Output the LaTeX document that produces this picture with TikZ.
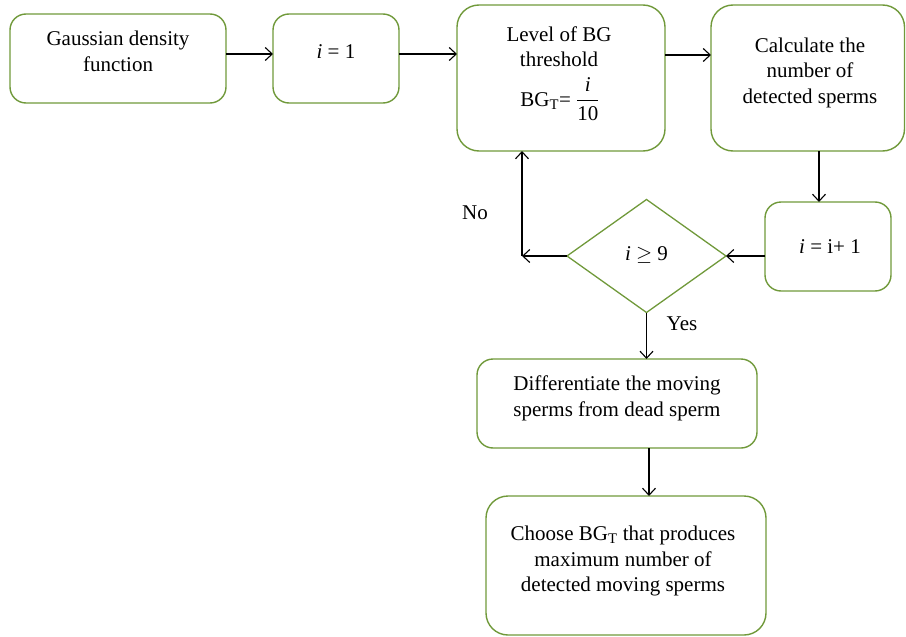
\documentclass[tikz,border=0pt]{standalone}
\usepackage{amsmath}
\usepackage{fontspec}
\setmainfont{Liberation Serif}
\usetikzlibrary{arrows.meta,shapes.geometric}
\definecolor{boxgreen}{RGB}{112,153,58}
\begin{document}
\begin{tikzpicture}[x=1pt,y=-1pt,
  every node/.style={font=\fontsize{21}{25.5}\selectfont},
  box/.style={draw=boxgreen,line width=1.4pt,rounded corners=#1,rectangle,inner sep=0pt,outer sep=0pt},
  box/.default=16pt,
  dia/.style={draw=boxgreen,line width=1.3pt,diamond,inner sep=0pt,outer sep=0pt,shape aspect=1.4},
  txt/.style={align=center,inner sep=0pt},
  arr/.style={draw=black,line width=1.1pt,-{Straight Barb[length=7pt,width=13pt,line width=1.1pt]}}]
\useasboundingbox (0,0) rectangle (906,637);
% boxes
\node[box,minimum width=216pt,minimum height=89pt] (b1) at (118,58.5) {};
\node[box,minimum width=126pt,minimum height=89pt] (b2) at (336,58.5) {};
\node[box=22pt,minimum width=208pt,minimum height=146pt] (b3) at (561,78) {};
\node[box=22pt,minimum width=193.5pt,minimum height=146pt] (b4) at (807.75,78) {};
\node[box,minimum width=126pt,minimum height=89pt] (b5) at (828,246.5) {};
\node[dia,minimum width=159pt,minimum height=113pt] (d) at (646.5,256) {};
\node[box,minimum width=280pt,minimum height=89pt] (b6) at (617,403.5) {};
\node[box=22pt,minimum width=280pt,minimum height=139pt] (b7) at (626,565.5) {};
% texts
\node[txt] (t1) at (118,51.5) {Gaussian density\\function};
\node[txt] (t2) at (336,51.5) {\textit{i} = 1};
\node[txt] (t3a) at (559,46.5) {Level of BG\\threshold};
\node[txt,anchor=base] (t3b) at (560,106) {BG$_{\text{T}}$= $\dfrac{\text{\itshape i}}{\text{10}}$};
\node[txt] (t4) at (810,72.5) {Calculate the\\number of\\detected sperms};
\node[txt] (t5) at (830,247) {\textit{i} = i+ 1};
\node[txt] (td) at (646.5,255) {\textit{i} $\geq$ 9};
\node[txt] (t6) at (617,398.5) {Differentiate the moving\\sperms from dead sperm};
\node[txt] (t7) at (623,561) {Choose BG$_{\text{T}}$ that produces\\maximum number of\\detected moving sperms};
\node[txt] (no) at (475,213) {No};
\node[txt] (yes) at (682,324) {Yes};
% connectors
\coordinate (c) at (522,256);
\draw[arr] ([yshift=4.5pt]b1.east) -- ([yshift=4.5pt]b2.west);
\draw[arr] ([yshift=4.5pt]b2.east) -- ([yshift=24pt]b3.west);
\draw[arr] ([yshift=23pt]b3.east) -- ([yshift=23pt]b4.west);
\draw[arr] ([xshift=11.25pt]b4.south) -- ([xshift=-9pt]b5.north);
\draw[arr] ([yshift=-9.5pt]b5.west) -- (d.east);
\draw[arr] (d.west) -- (c);
\draw[arr] (c) -- (c |- b3.south);
\draw[arr] (d.south) -- (d.south |- b6.north);
\draw[arr] ([xshift=32pt]b6.south) -- ([xshift=23pt]b7.north);
\end{tikzpicture}
\end{document}
